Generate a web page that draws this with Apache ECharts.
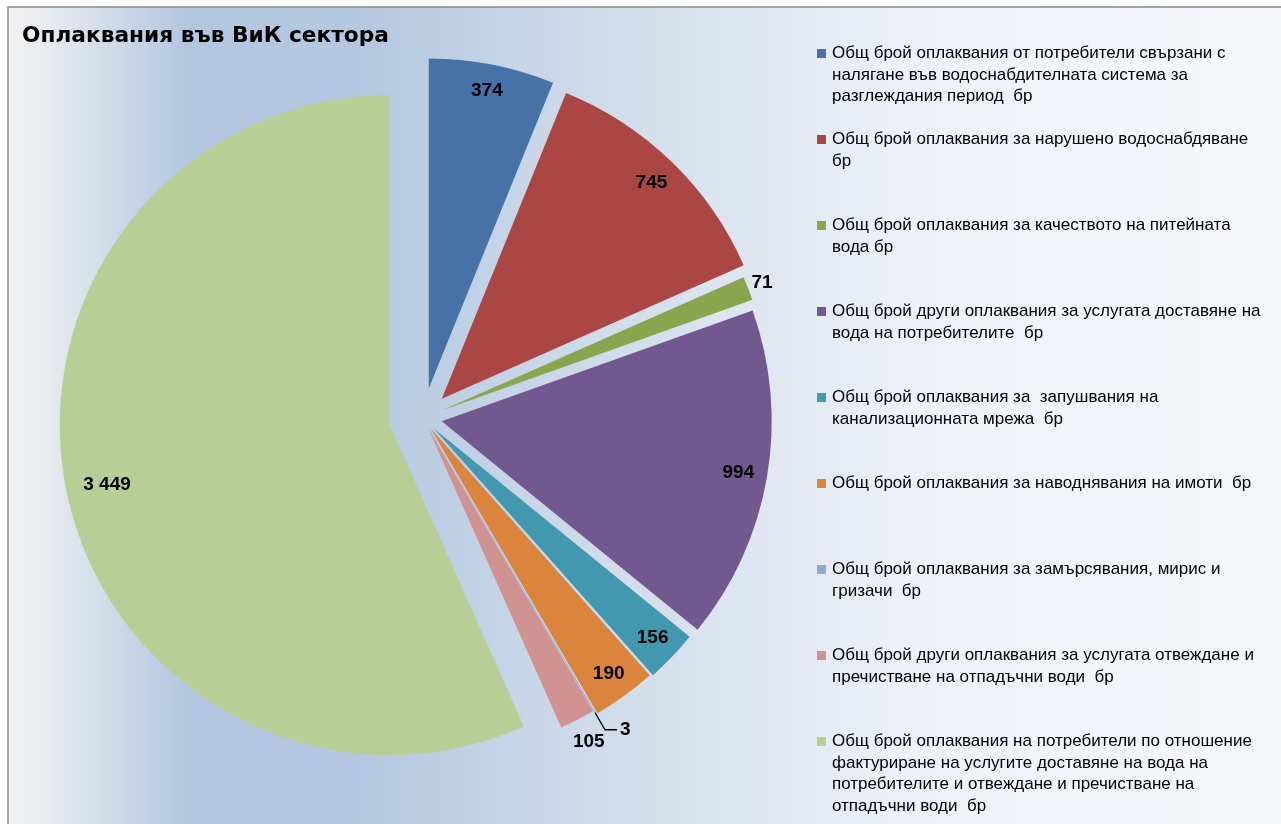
<!DOCTYPE html>
<html>
<head>
<meta charset="utf-8">
<script src="https://cdn.jsdelivr.net/npm/echarts@6/dist/echarts.min.js"></script>
<style>
html,body{margin:0;padding:0;background:#fff;}
#chart{width:1281px;height:824px;}
</style>
</head>
<body>
<div id="chart"></div>
<script>
const titleText = 'Оплаквания във ВиК сектора';
const categoryLines = [
  ['Общ брой оплаквания от потребители свързани с', 'налягане във водоснабдителната система за', 'разглеждания период  бр'],
  ['Общ брой оплаквания за нарушено водоснабдяване', 'бр'],
  ['Общ брой оплаквания за качеството на питейната', 'вода бр'],
  ['Общ брой други оплаквания за услугата доставяне на', 'вода на потребителите  бр'],
  ['Общ брой оплаквания за  запушвания на', 'канализационната мрежа  бр'],
  ['Общ брой оплаквания за наводнявания на имоти  бр'],
  ['Общ брой оплаквания за замърсявания, мирис и', 'гризачи  бр'],
  ['Общ брой други оплаквания за услугата отвеждане и', 'пречистване на отпадъчни води  бр'],
  ['Общ брой оплаквания на потребители по отношение', 'фактуриране на услугите доставяне на вода на', 'потребителите и отвеждане и пречистване на', 'отпадъчни води  бр']
];
const categories = categoryLines.map(l => l.join(' '));
const values = [374, 745, 71, 994, 156, 190, 3, 105, 3449];
const colors = ['#4672a8', '#aa4644', '#89a54e', '#71588f', '#4198af', '#db843d', '#93a9cf', '#d19392', '#b9cd96'];

// layout / style settings (not data)
const explode = [30, 27, 20, 19, 15, 13, 11, 9, 34];
const labelMode = ['in', 'in', 'edge', 'in', 'in', 'in', 'leader', 'edge', 'in'];
const labelRadius = [300, 298, 342, 298, 300, 300, 0, 352, 286];

const FONT = 'Liberation Sans';
const CX = 423, CY = 418, R = 330;

function fmt(v) { return String(v).replace(/\B(?=(\d{3})+(?!\d))/g, ' '); }

const labelStyle = { fontFamily: FONT, fontWeight: 'bold', fontSize: 19, color: '#000' };

const chart = echarts.init(document.getElementById('chart'), null, { renderer: 'canvas' });

const legends = categories.map((name, i) => {
  const rich = {
    s: { width: 9, height: 9 },
    t: { fontFamily: FONT, fontSize: 17, color: '#000', lineHeight: 21.6, padding: [0, 0, 0, 6] }
  };
  rich['m' + i] = { width: 9, height: 9, backgroundColor: colors[i] };
  return {
    data: [name],
    orient: 'vertical',
    left: 812,
    top: 45 + i * 86,
    padding: 0,
    icon: 'none',
    itemWidth: 0,
    itemHeight: 0,
    selectedMode: false,
    formatter: () => categoryLines[i].map((l, j) => (j === 0 ? '{m' + i + '|}' : '{s|}') + '{t|' + l + '}').join('\n'),
    textStyle: { rich }
  };
});

function pieBase(i) {
  return {
    type: 'pie', center: [CX, CY], startAngle: 90, clockwise: true,
    selectedMode: 'multiple', selectedOffset: explode[i], avoidLabelOverlap: false,
    emphasis: { disabled: true }, animation: false
  };
}

// one series per slice so each slice keeps its own explosion distance
const sliceSeries = values.map((v, i) => Object.assign(pieBase(i), {
  name: 'slice' + i, radius: R,
  label: { show: false }, labelLine: { show: false },
  data: values.map((vv, j) => {
    const d = { name: categories[j], value: vv, selected: true,
      itemStyle: { color: j === i ? colors[j] : 'rgba(0,0,0,0)' } };
    if (j === i && labelMode[j] === 'leader') {
      d.label = Object.assign({ show: true, position: 'outside', formatter: p => fmt(p.value), distanceToLabelLine: 3, verticalAlign: 'bottom', padding: [0, 0, -3, 0] }, labelStyle);
      d.labelLine = { show: true, length: 20, length2: 12, smooth: false, lineStyle: { color: '#000', width: 1.3 } };
    }
    return d;
  })
}));

// transparent companion rings that carry the value labels at the right distance
const labelSeries = values.map((v, i) => i).filter(i => labelMode[i] === 'in' || labelMode[i] === 'edge').map(i => Object.assign(pieBase(i), {
  name: 'label' + i, radius: [labelRadius[i] - 30, labelRadius[i] + 30], silent: true,
  itemStyle: { color: 'rgba(0,0,0,0)' },
  labelLine: { show: false },
  label: Object.assign({ show: false, position: 'inside', formatter: p => fmt(p.value) }, labelStyle),
  data: values.map((vv, j) => ({ name: categories[j], value: vv, selected: true,
    label: { show: j === i } }))
}));

const option = {
  animation: false,
  backgroundColor: '#ffffff',
  graphic: [{
    type: 'rect', z: -1, silent: true,
    shape: { x: 8, y: 7, width: 1300, height: 900 },
    style: {
      fill: new echarts.graphic.LinearGradient(0, 0, 1, 0, [
        { offset: 0, color: '#f2f2f2' },
        { offset: 0.03, color: '#e8ebef' },
        { offset: 0.14, color: '#b2c6e0' },
        { offset: 0.27, color: '#b5c8e1' },
        { offset: 0.46, color: '#d0dcea' },
        { offset: 0.69, color: '#edf1f7' },
        { offset: 1, color: '#f6f8fb' }
      ]),
      stroke: '#8a8a8a', lineWidth: 1.5
    }
  }],
  title: {
    text: titleText, left: 17, top: 20,
    textStyle: { fontFamily: 'DejaVu Sans', fontWeight: 'bold', fontSize: 21.7, color: '#000' }
  },
  legend: legends,
  series: sliceSeries.concat(labelSeries)
};
chart.setOption(option);
</script>
</body>
</html>
